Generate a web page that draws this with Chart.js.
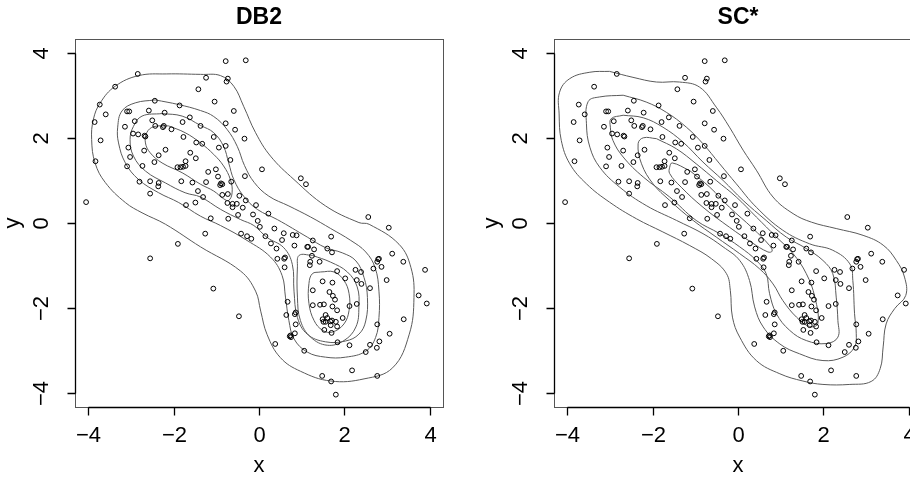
<!DOCTYPE html>
<html><head><meta charset="utf-8">
<script src="https://cdn.jsdelivr.net/npm/chart.js@4.4.0/dist/chart.umd.min.js"></script>
<style>
html,body{margin:0;padding:0;background:#fff;overflow:hidden;width:910px;height:479px;}
#wrap{position:relative;width:910px;height:479px;overflow:hidden;}
canvas{position:absolute;top:0;}
#c1{left:0}
#c2{left:479px}
</style></head><body>
<div id="wrap"><canvas id="c1" width="480" height="479"></canvas><canvas id="c2" width="480" height="479"></canvas></div>
<script>
// ---- data ----
const panelTitles = ['DB2', 'SC*'];
const xAxisTitle = 'x';
const yAxisTitle = 'y';
const tickValues = [-4, -2, 0, 2, 4];
const tickLabels = ['\u22124', '\u22122', '0', '2', '4'];

const ptX = [-0.78,-0.31,-2.84,-1.24,-0.73,-0.76,-3.37,-1.42,-3.73,-2.44,
-1.04,-1.86,-3.59,-3.85,-3.09,-3.04,-2.58,-2.21,-0.59,-1.62,
-2.91,-2.50,-1.79,-0.78,-3.14,-2.43,-2.23,-2.25,-1.37,-2.05,
-0.56,-3.71,-2.95,-2.83,-2.68,-2.66,-1.77,-1.06,-0.34,-3.83,
-3.06,-2.69,-2.19,-1.47,-1.33,-0.94,-0.78,-3.02,-2.35,-1.61,
-1.48,-1.72,-0.67,-3.09,-2.73,-2.45,-1.91,-1.84,-1.78,-1.72,
-1.01,0.07,-1.19,-2.80,-2.55,-2.35,-2.36,-1.82,-1.56,-1.24,
-0.96,-0.89,-0.86,-0.91,-0.65,-0.33,0.98,1.10,-2.55,-1.43,
-1.31,-0.86,-0.73,-0.46,-1.49,-1.71,-0.74,-0.62,-0.52,-0.31,
-0.38,-0.07,-0.62,-4.05,-1.13,-0.72,-0.49,-0.14,0.22,-0.03,
0.02,2.56,3.04,-1.26,-0.42,-0.28,-0.18,0.15,0.36,0.58,
0.79,0.88,0.54,0.28,0.41,0.83,1.13,1.15,1.26,1.29,
-1.90,-2.55,0.61,0.59,0.43,1.24,1.20,1.19,1.42,0.60,
1.69,1.60,1.71,2.79,2.81,2.77,2.87,3.12,3.38,3.89,
1.83,2.26,2.39,2.68,2.02,2.29,2.40,2.99,1.49,1.72,
1.26,2.60,1.65,1.73,1.78,-1.07,3.74,3.93,0.67,1.26,
1.43,1.52,1.72,1.83,2.12,2.29,0.86,0.84,0.64,-0.47,
1.56,1.60,1.71,1.67,1.80,1.56,1.49,1.51,1.68,1.83,
1.96,0.86,3.39,2.77,1.53,0.84,0.74,0.72,0.75,1.70,
3.06,1.84,0.38,2.12,2.60,2.82,2.76,1.06,2.50,2.18,
1.48,2.77,1.69,1.80];
const ptY = [3.80,3.82,3.50,3.41,3.39,3.32,3.20,3.14,2.78,2.87,
2.85,2.76,2.55,2.37,2.62,2.62,2.64,2.59,2.63,2.48,
2.39,2.41,2.37,2.34,2.26,2.28,2.28,2.25,2.28,2.20,
2.19,1.94,2.10,2.08,2.05,2.03,2.02,2.02,1.98,1.45,
1.77,1.70,1.72,1.89,1.86,1.77,1.81,1.55,1.59,1.65,
1.52,1.45,1.48,1.33,1.34,1.43,1.31,1.31,1.32,1.34,
1.26,1.26,1.20,0.97,0.98,0.94,0.86,0.98,0.95,0.96,
1.09,0.93,0.91,0.89,0.97,1.10,1.05,0.91,0.69,0.75,
0.61,0.66,0.68,0.64,0.48,0.42,0.47,0.45,0.45,0.53,
0.36,0.42,0.37,0.49,0.11,0.10,0.19,0.20,0.22,0.05,
-0.09,0.14,-0.11,-0.25,-0.25,-0.31,-0.37,-0.31,-0.13,-0.24,
-0.28,-0.29,-0.40,-0.48,-0.60,-0.53,-0.56,-0.56,-0.41,-0.62,
-0.49,-0.83,-0.81,-0.84,-0.84,-0.77,-0.91,-0.99,-0.91,-1.04,
-0.32,-0.60,-0.69,-0.85,-0.84,-0.91,-1.03,-0.72,-0.91,-1.10,
-1.13,-1.10,-1.15,-1.07,-1.30,-1.34,-1.43,-1.34,-1.37,-1.40,
-1.58,-1.53,-1.62,-1.71,-1.80,-1.54,-1.70,-1.89,-1.85,-1.93,
-1.92,-1.91,-1.96,-2.05,-1.95,-1.90,-2.10,-2.14,-2.16,-2.19,
-2.16,-2.23,-2.29,-2.31,-2.32,-2.32,-2.26,-2.32,-2.40,-2.43,
-2.23,-2.38,-2.26,-2.38,-2.51,-2.59,-2.64,-2.66,-2.68,-2.58,
-2.60,-2.80,-2.84,-2.87,-2.86,-2.78,-2.93,-3.00,-3.03,-3.46,
-3.59,-3.59,-3.72,-4.03];

// DB2 density contour levels (data units)
const db2Level1 = [[-1.37,3.49],[-0.90,3.46],[-0.59,3.21],[-0.36,2.74],[-0.08,2.12],[0.27,1.57],[0.82,1.02],[1.56,0.40],[2.34,0.01],[2.58,-0.03],[3.28,-0.50],[3.56,-1.05],[3.63,-1.75],[3.52,-2.61],[3.13,-3.40],[2.46,-3.66],[1.68,-3.71],[0.97,-3.48],[0.50,-3.16],[0.19,-2.62],[0.04,-2.07],[-0.08,-1.60],[-0.43,-1.13],[-1.37,-0.56],[-2.19,-0.03],[-2.74,0.24],[-3.13,0.48],[-3.60,0.95],[-3.84,1.41],[-3.92,1.96],[-3.88,2.43],[-3.72,2.82],[-3.37,3.21],[-2.82,3.46],[-2.16,3.50],[-1.37,3.49]];
const db2Level2 = [[-2.43,2.89],[-1.88,2.78],[-1.37,2.64],[-1.06,2.50],[-0.75,2.20],[-0.51,1.80],[-0.34,1.35],[-0.11,0.95],[0.23,0.63],[0.70,0.40],[1.21,0.14],[1.68,-0.13],[2.15,-0.41],[2.50,-0.68],[2.72,-1.05],[2.81,-1.60],[2.81,-2.22],[2.73,-2.69],[2.50,-3.01],[2.03,-3.15],[1.56,-3.15],[1.13,-3.03],[0.82,-2.72],[0.70,-2.29],[0.62,-1.74],[0.54,-1.23],[0.27,-0.80],[-0.28,-0.41],[-0.90,-0.06],[-1.37,0.16],[-1.88,0.48],[-2.35,0.71],[-2.82,1.02],[-3.13,1.41],[-3.29,1.88],[-3.31,2.25],[-3.21,2.63],[-2.90,2.82],[-2.43,2.89]];
const db2Level3 = [[-2.27,2.57],[-1.80,2.51],[-1.37,2.29],[-1.06,2.12],[-0.83,1.80],[-0.71,1.41],[-0.59,1.02],[-0.36,0.63],[-0.04,0.32],[0.43,0.08],[1.13,-0.33],[1.56,-0.58],[1.95,-0.70],[2.27,-0.89],[2.46,-1.28],[2.54,-1.75],[2.50,-2.30],[2.34,-2.61],[2.03,-2.77],[1.56,-2.79],[1.13,-2.61],[0.90,-2.22],[0.82,-1.60],[0.78,-0.97],[0.58,-0.58],[0.19,-0.34],[-0.12,-0.06],[-0.43,0.08],[-0.90,0.32],[-1.37,0.61],[-1.73,0.71],[-2.19,0.94],[-2.66,1.22],[-2.94,1.57],[-3.02,1.96],[-2.94,2.27],[-2.74,2.51],[-2.27,2.57]];
const db2Level4a = [[-2.12,2.28],[-1.73,2.12],[-1.37,1.88],[-1.06,1.61],[-0.83,1.34],[-0.67,1.02],[-0.63,0.71],[-0.71,0.53],[-0.83,0.57],[-1.06,0.75],[-1.37,0.91],[-1.80,1.18],[-2.27,1.41],[-2.55,1.65],[-2.66,1.88],[-2.63,2.12],[-2.47,2.26],[-2.12,2.28]];
const db2Level4b = [[1.25,-0.76],[1.68,-0.92],[2.07,-1.15],[2.30,-1.50],[2.34,-1.97],[2.27,-2.44],[1.99,-2.76],[1.60,-2.87],[1.21,-2.68],[0.97,-2.29],[0.90,-1.74],[0.90,-1.03],[0.94,-0.76],[1.25,-0.76]];
const db2Level5 = [[1.44,-1.15],[1.76,-1.15],[1.99,-1.35],[2.11,-1.66],[2.11,-2.05],[1.99,-2.37],[1.72,-2.56],[1.49,-2.52],[1.29,-2.29],[1.17,-1.89],[1.17,-1.42],[1.25,-1.19],[1.44,-1.15]];

// SC* density contour levels (data units)
const scLevel1 = [[-3.01,3.56],[-2.46,3.42],[-1.91,3.31],[-1.37,3.31],[-0.90,3.19],[-0.51,2.72],[-0.20,2.25],[0.12,1.71],[0.43,1.24],[0.82,0.61],[1.29,0.22],[1.72,0.02],[2.30,-0.13],[2.93,-0.29],[3.40,-0.52],[3.71,-0.88],[3.90,-1.27],[3.93,-1.70],[3.67,-2.01],[3.47,-2.37],[3.40,-2.91],[3.33,-3.42],[3.12,-3.72],[2.62,-3.79],[1.99,-3.79],[1.52,-3.71],[0.98,-3.54],[0.43,-3.23],[0.04,-2.68],[-0.13,-2.21],[-0.18,-1.58],[-0.27,-1.19],[-0.62,-0.84],[-1.13,-0.53],[-1.76,-0.21],[-2.38,0.10],[-3.01,0.49],[-3.55,0.92],[-3.94,1.39],[-4.14,1.94],[-4.19,2.56],[-4.18,3.07],[-3.94,3.39],[-3.47,3.54],[-3.01,3.56]];
const scLevel2 = [[-2.69,3.00],[-2.15,2.84],[-1.68,2.60],[-1.21,2.25],[-0.82,1.86],[-0.43,1.39],[-0.04,0.92],[0.43,0.37],[1.05,-0.17],[1.68,-0.49],[2.22,-0.64],[2.62,-0.96],[2.69,-1.35],[2.73,-2.13],[2.77,-2.60],[2.73,-2.91],[2.46,-3.15],[1.99,-3.23],[1.44,-3.07],[0.98,-2.84],[0.59,-2.44],[0.39,-1.97],[0.27,-1.35],[0.04,-0.88],[-0.35,-0.56],[-0.82,-0.25],[-1.44,0.06],[-2.15,0.41],[-2.77,0.84],[-3.24,1.31],[-3.47,1.78],[-3.55,2.33],[-3.51,2.85],[-3.24,2.96],[-2.69,3.00]];
const scLevel3 = [[-2.69,2.53],[-2.22,2.47],[-1.76,2.25],[-1.29,1.90],[-0.82,1.43],[-0.35,1.00],[0.12,0.53],[0.66,0.06],[1.13,-0.33],[1.60,-0.60],[1.99,-0.88],[2.22,-1.19],[2.30,-1.74],[2.34,-2.29],[2.34,-2.68],[2.07,-2.83],[1.60,-2.76],[1.21,-2.52],[0.90,-2.13],[0.74,-1.66],[0.66,-1.19],[0.43,-0.88],[0.04,-0.56],[-0.43,-0.25],[-0.98,0.06],[-1.60,0.61],[-2.22,1.08],[-2.69,1.55],[-2.93,1.94],[-2.99,2.25],[-2.97,2.45],[-2.69,2.53]];
const scLevel4 = [[-1.91,1.98],[-1.44,1.74],[-0.98,1.39],[-0.51,1.00],[-0.04,0.61],[0.43,0.14],[0.90,-0.33],[1.29,-0.72],[1.60,-1.19],[1.80,-1.74],[1.87,-2.36],[1.68,-2.43],[1.37,-2.21],[1.05,-1.82],[0.82,-1.43],[0.51,-1.08],[0.04,-0.72],[-0.51,-0.33],[-1.05,0.06],[-1.60,0.53],[-1.99,0.92],[-2.26,1.39],[-2.34,1.86],[-2.22,2.00],[-1.91,1.98]];
const scLevel5 = [[-1.13,1.23],[-0.66,0.84],[-0.20,0.37],[0.35,-0.13],[0.74,-0.53],[0.80,-0.66],[0.70,-0.68],[0.31,-0.45],[-0.20,-0.10],[-0.82,0.37],[-1.33,0.84],[-1.60,1.16],[-1.60,1.31],[-1.54,1.41],[-1.13,1.23]];

const db2Contours = [db2Level1, db2Level2, db2Level3, db2Level4a, db2Level4b, db2Level5];
const scContours = [scLevel1, scLevel2, scLevel3, scLevel4, scLevel5];

// ---- rendering ----
const FONT = '"Liberation Sans", Arial, Helvetica, sans-serif';
const points = ptX.map((x, i) => ({ x, y: ptY[i] }));

const rFrame = {
  id: 'rFrame',
  afterDraw(chart, args, opts) {
    const { ctx, chartArea: a, scales: { x, y } } = chart;
    ctx.save();
    // box
    ctx.strokeStyle = '#555';
    ctx.lineWidth = 1;
    ctx.strokeRect(Math.round(a.left) + 0.5, Math.round(a.top) + 0.5, Math.round(a.right - a.left), Math.round(a.bottom - a.top));
    // axes
    ctx.strokeStyle = '#000';
    ctx.lineWidth = 1.3;
    const bx = Math.round(a.bottom) + 0.5, lx = Math.round(a.left) + 0.5;
    const xs = tickValues.map(v => Math.round(x.getPixelForValue(v)) + 0.5);
    const ys = tickValues.map(v => Math.round(y.getPixelForValue(v)) + 0.5);
    ctx.beginPath();
    ctx.moveTo(xs[0], bx); ctx.lineTo(xs[xs.length - 1], bx);
    xs.forEach(px => { ctx.moveTo(px, bx); ctx.lineTo(px, bx + 8); });
    ctx.moveTo(lx, ys[0]); ctx.lineTo(lx, ys[ys.length - 1]);
    ys.forEach(py => { ctx.moveTo(lx, py); ctx.lineTo(lx - 8, py); });
    ctx.stroke();
    // tick labels
    ctx.fillStyle = '#000';
    ctx.font = '22px ' + FONT;
    ctx.textAlign = 'center';
    ctx.textBaseline = 'middle';
    xs.forEach((px, i) => ctx.fillText(tickLabels[i], px, bx + 28));
    ys.forEach((py, i) => {
      ctx.save();
      ctx.translate(lx - 34, py);
      ctx.rotate(-Math.PI / 2);
      ctx.fillText(tickLabels[i], 0, 0);
      ctx.restore();
    });
    // axis titles
    ctx.font = '22px ' + FONT;
    ctx.fillText(xAxisTitle, (a.left + a.right) / 2, bx + 58);
    ctx.save();
    ctx.translate(lx - 63, (a.top + a.bottom) / 2);
    ctx.rotate(-Math.PI / 2);
    ctx.fillText(yAxisTitle, 0, 0);
    ctx.restore();
    // panel title
    ctx.font = 'bold 23px ' + FONT;
    ctx.fillText(opts.title, (a.left + a.right) / 2, a.top - 21);
    ctx.restore();
  }
};

function makeChart(id, title, contours) {
  const datasets = [{
    data: points,
    showLine: false,
    pointRadius: 2.4,
    pointHoverRadius: 2.4,
    pointBorderWidth: 1,
    pointBorderColor: '#000',
    pointBackgroundColor: 'rgba(0,0,0,0)',
    order: 0
  }];
  contours.forEach(c => datasets.push({
    data: c.map(p => ({ x: p[0], y: p[1] })),
    showLine: true,
    pointRadius: 0,
    borderColor: '#5a5a5a',
    borderWidth: 1,
    tension: 0.4,
    fill: false,
    order: 1
  }));
  return new Chart(document.getElementById(id), {
    type: 'scatter',
    data: { datasets },
    options: {
      responsive: false,
      animation: false,
      devicePixelRatio: 1,
      events: [],
      layout: { padding: { left: 75, top: 39, right: 37, bottom: 72 } },
      plugins: { legend: { display: false }, tooltip: { enabled: false }, title: { display: false }, rFrame: { title } },
      scales: {
        x: { type: 'linear', min: -4.31, max: 4.31, display: false },
        y: { type: 'linear', min: -4.32, max: 4.32, display: false }
      }
    },
    plugins: [rFrame]
  });
}

makeChart('c1', panelTitles[0], db2Contours);
makeChart('c2', panelTitles[1], scContours);
</script>
</body></html>
